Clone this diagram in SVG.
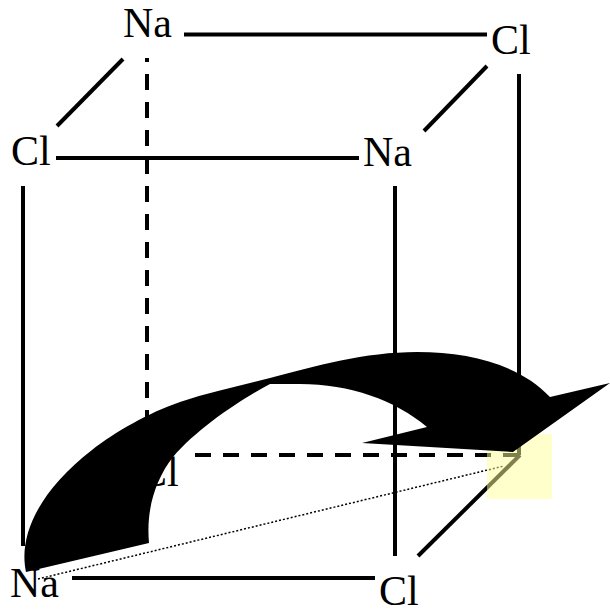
<svg xmlns="http://www.w3.org/2000/svg" width="610" height="611" viewBox="0 0 610 611">
<style>
text{font-family:"Liberation Serif","Times New Roman",serif;font-size:42px;fill:#000}
.e{fill:none;stroke:#000;stroke-width:4}
.d{stroke-dasharray:16 12}
.o{stroke-width:1.5;stroke-dasharray:2 2}
</style>
<rect width="610" height="611" fill="#fff"/>
<g id="connectors">
<path class="e" d="M184,34.5H487"/>
<path class="e" d="M123,59L57,126"/>
<path class="e" d="M487,66L424,131"/>
<path class="e" d="M56,158H359"/>
<path class="e" d="M23,186V546"/>
<path class="e" d="M395,186V556"/>
<path class="e" d="M519,74V455"/>
<path class="e" d="M72,578H375"/>
<path class="e" d="M520,455L418,556"/>
<path class="e d" stroke-dashoffset="12" d="M147,58V426"/>
<path class="e d" d="M195,455H520"/>
<path class="e o" d="M38,579L504,466"/>
</g>
<g id="cl-back-bottom"><text x="139" y="486">Cl</text></g>
<g id="na-back-top"><text x="123" y="37">Na</text></g>
<g id="cl-back-right"><text x="491" y="54">Cl</text></g>
<g id="cl-front-left"><text x="11" y="165">Cl</text></g>
<g id="na-front-right"><text x="363" y="166">Na</text></g>
<g id="na-front-bottom"><text x="10" y="597">Na</text></g>
<g id="cl-front-bottom"><text x="379" y="605">Cl</text></g>
<g id="highlight"><rect x="487" y="434" width="65" height="65" fill="#ff9" fill-opacity="0.5"/></g>
<g id="arrow"><path fill="#000" d="M26,572C18,535 40,490 92,450C115,432 148,413 180,402C210,392 240,386 270,378C315,366 365,352 417,352C470,352 520,365 550,397L610,383L513,452L362,443L427,427C395,400 350,384 300,384L270,384C240,400 198,428 173,457C155,480 146,510 149,543Z"/></g>
</svg>
